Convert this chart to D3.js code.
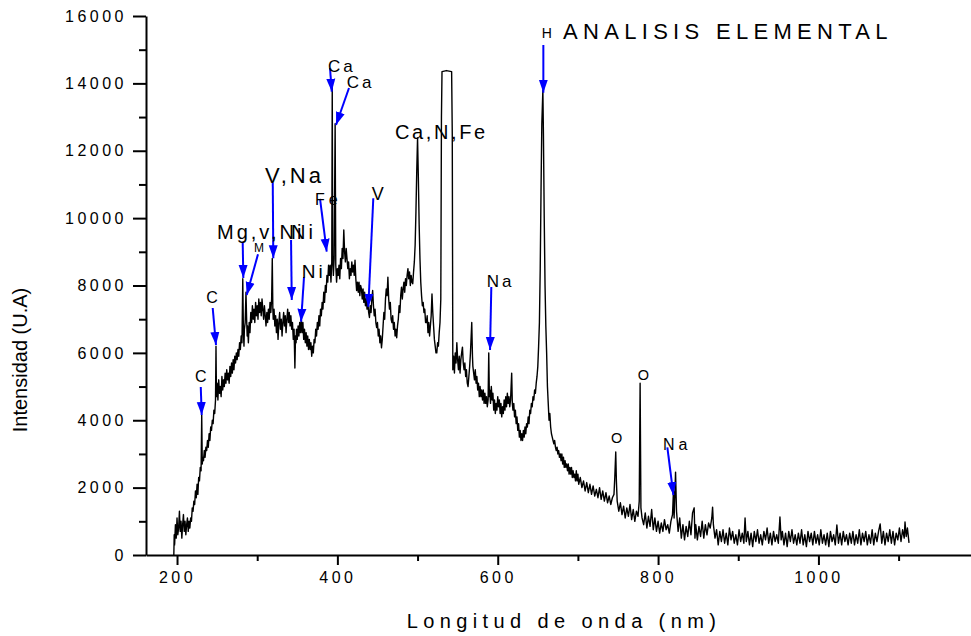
<!DOCTYPE html>
<html><head><meta charset="utf-8">
<script src="https://cdn.jsdelivr.net/npm/d3@7"></script>
<style>body{margin:0;background:#fff}svg{display:block}</style>
</head><body>
<svg id="chart" width="971" height="636"></svg>
<script>
// ---------- DATA ----------
const spectrumUV = [[196,0],[196.5,600],[197,300],[198,900],[199,500],[200,1100],[201,600],[202,800],[203,1300],[204,700],[205,1000],[206,500],[207,900],[208,1200],[209,700],[210,1000],[211,600],[212,900],[213,1100],[214,700],[215,1000],[216,800],[217,1100],[218,1000],[219,1400],[220,1300],[221,1600],[222,1500],[223,1900],[224,1700],[225,2100],[226,1800],[227,2300],[228,2200],[229,2600],[230,2500],[230.8,4150],[231.5,2700],[232,2900],[233,2800],[234,3100],[235,2900],[236,3200],[237,3100],[238,3400],[239,3200],[240,3600],[241,3400],[242,3800],[243,3700],[244,4000],[245,3900],[246,4300],[247,4200],[248,4600],[248.6,6200],[249.2,4700],[250,5100],[251,4600],[252,5200],[253,4800],[254,5000],[255,4700],[256,5300],[257,4900],[258,5200],[259,5000],[260,5400],[261,5100],[262,5500],[263,5200],[264,5400],[265,5100],[266,5600],[267,5300],[268,5700],[269,5400],[270,5800],[271,5500],[272,5900],[273,5700],[274,6000],[275,5800],[276,6100],[277,5900],[278,6300],[279,6100],[280,6500],[281,6300],[282,8200],[282.8,6600],[283.5,6200],[284,6700],[285,6900],[286,7800],[286.8,7000],[287.5,6500],[288,6800],[289,6300],[290,6900],[291,6600],[292,7200],[293,6900],[294,7400],[295,7000],[296,7300],[297,6900],[298,7500],[299,7100],[300,7400],[301,7000],[302,7600],[303,7200],[304,7500],[305,7100],[306,7600],[307,7300],[308,7000],[309,7400],[310,7100],[311,6800],[312,7200],[313,6900],[314,7300],[315,7000],[316,7500],[317,7200],[318,7600],[318.8,8800],[319.5,7300],[320,7000],[321,7300],[322,6800],[323,7100],[324,6600],[325,7000],[326,6400],[327,6900],[328,7200],[329,6700],[330,7000],[331,6500],[332,6900],[333,7200],[334,6800],[335,7100],[336,6600],[337,7000],[338,7300],[339,6900],[340,7200],[341,6800],[342,7100],[343,6700],[344,6900],[345,6400],[346,6700],[347,5550],[347.8,6500],[348.5,6300],[349,6700],[350,6400],[351,6800],[352,6500],[353,6900],[354,6600],[355,7000],[356,6600],[357,6900],[358,6400],[359,6700],[360,6300],[361,6600],[362,6200],[363,6500],[364,6100],[365,6400],[366,6100],[367,6300],[368,5900],[369,6200],[370,6000],[371,6400],[372,6300],[373,6700],[374,6500],[375,6900],[376,6700],[377,7100],[378,6800],[379,7300],[380,7100],[381,7500],[382,7300],[383,7800],[384,7500],[385,8000],[386,7800],[387,8300],[388,8100],[389,8600],[390,8300],[391,8600],[392,8100],[393,8700],[393.6,13900],[394.2,8900],[395,8300],[396,8800],[397.2,12800],[398,8600],[399,8100],[400,8500]];

const spectrumVis = [[401,8300],[402,8600],[403,8200],[404,8800],[405,8500],[406,9100],[407,8800],[408,9650],[409,9000],[410,8700],[411,9100],[412,8800],[413,8500],[414,8700],[415,8200],[416,8500],[417,8300],[418,8700],[419,8400],[420,8600],[421,8300],[422,8750],[423,8200],[424,7850],[425,8100],[426,7800],[427,8100],[428,7700],[429,8000],[430,7900],[431,7600],[432,7900],[433,7500],[434,7800],[435,7400],[436,7600],[437,7300],[438,7500],[439,7200],[440,7050],[441,7400],[442,7200],[443,7600],[444,7850],[445,7400],[446,7100],[447,7300],[448,6900],[449,6750],[450,6900],[451,6500],[452,6700],[453,6300],[454,6500],[455,6150],[456,6400],[457,6800],[458,7200],[459,7000],[460,7600],[461,7900],[462,7700],[463,8250],[464,7600],[465,7300],[466,7500],[467,7000],[468,6900],[469,7100],[470,6700],[471,6900],[472,6500],[473,6700],[474,6450],[475,6800],[476,7000],[477,7400],[478,7200],[479,7700],[480,7950],[481,7600],[482,7900],[483,8100],[484,7800],[485,8200],[486,8000],[487,8300],[488,8500],[489,8200],[490,8400],[491,8000],[492,8300],[493,8100],[494,8050],[495,8400],[496,8700],[497,9200],[498,10200],[499,11400],[500,12380],[501,11200],[502,9800],[503,8800],[504,8100],[505,7700],[506,7400],[507,7500],[508,7200],[509,7300],[510,6900],[511,6900],[512,7100],[513,6600],[514,6900],[515,6500],[516,6800],[517,7100],[518,7750],[519,7200],[520,6800],[521,6400],[522,6200],[523,6000],[524,6000],[525,6300],[526,6200],[527,6600],[528,6900],[529,7600],[529.8,13000],[530.5,14350],[536,14380],[542.5,14350],[543.3,12500],[544,5500],[545,5900],[546,5400],[547,6000],[548,5700],[549,6300],[550,5800],[551,5500],[552,5900],[553,5400],[554,5800],[555,6000],[556,6170],[557,5700],[558,5500],[559,5700],[560,5300],[561,5500],[562,5100],[563,5000],[564,5300],[565,5600],[566,6000],[567.6,6900],[568.5,5900],[569,5600],[570,5400],[571,5200],[572,5500],[573,5100],[574,5300],[575,4900],[576,5100],[577,4700],[578,5000],[579,4700],[580,4900],[581,4600],[582,4900],[583,4500],[584,4800],[585,4500],[586,4700],[587,4400],[588,4600],[588.8,6000],[589.6,4700],[590,4900],[591,4500],[592,5000],[593,4600],[594,4800],[595,4300],[596,4600],[597,4200],[598,4500],[599,4300],[600,4700],[601,4400],[602,4600],[603,4200],[604,4500],[605,4100],[606,4400],[607,4200],[608,4600],[609,4300],[610,4700],[611,4400],[612,4800],[613,4500],[614,4700],[615,4400],[616,4600],[617.4,5400],[618.2,4500],[619,4300],[620,4500],[621,4100],[622,4300],[623,3900],[624,4100],[625,3700],[626,3900],[627,3500],[628,3700],[629,3400],[630,3600],[631,3400],[632,3700],[633,3500],[634,3800],[635,3600],[636,3900],[637,3800],[638,4100],[639,3900],[640,4300],[641,4200],[642,4500],[643,4400],[644,4700],[645,4600],[646,4900],[647,4800],[648,5100],[649,5300],[650,5600],[651,6200],[652,6900],[653,8500],[654,10800],[655,12800],[656.3,13800],[657,12500],[658,10000],[659,8000],[660,6800],[661,6000],[662,5000],[663,4500],[664,4000],[665,4200],[666,3800],[667,3600],[668,3500],[669,3400],[670,3300],[671,3400],[672,3200],[673,3100],[674,3200],[675,3000],[676,3100],[677,2900],[678,3000],[679,2800],[680,3000],[681,2700],[682,2900],[683,2600],[684,2800],[685,2600],[686,2700],[687,2500],[688,2700],[689,2400],[690,2600],[691,2400],[692,2600],[693,2300],[694,2500],[695,2300],[696,2400],[697,2200],[698,2500],[699,2200],[700,2400]];

const spectrumNIR = [[701,2100],[703,2300],[705,2000],[707,2200],[709,1900],[711,2150],[713,1850],[715,2100],[717,1800],[719,2050],[721,1750],[723,1950],[725,1700],[727,2000],[729,1650],[731,1900],[733,1600],[735,1850],[737,1550],[739,1750],[741,1500],[743,1700],[745,1800],[746,2300],[747.2,3060],[748,2200],[749,1600],[751,1300],[753,1550],[755,1200],[757,1450],[759,1100],[761,1400],[763,1150],[765,1500],[767,1050],[769,1350],[771,1000],[773,1300],[775,1150],[776.5,1600],[777.6,5100],[778.6,1400],[780,1100],[782,900],[784,1250],[786,800],[788,1150],[790,850],[792,1350],[794,750],[796,1100],[798,700],[800,1000],[802,650],[804,950],[806,700],[808,1050],[810,750],[812,900],[814,650],[816,1000],[818,1200],[819.2,1900],[820,1100],[821.8,2460],[823,1300],[825,700],[827,1100],[829,500],[831,900],[833,450],[835,850],[837,550],[839,1000],[841,600],[843,1250],[845,1400],[846,500],[847,900],[849,450],[851,850],[853,550],[855,1000],[857,500],[859,900],[861,600],[863,950],[865,800],[867,1100],[868,1420],[869,900],[871,500],[873,750],[875,300],[877,700],[879,400],[881,750],[883,350],[885,650],[887,300],[889,800],[891,450],[893,700],[895,350],[897,600],[899,300],[901,750],[903,400],[905,650],[907,350],[908.5,1100],[910,400],[912,700],[914,300],[916,650],[918,250],[920,700],[922,400],[924,750],[926,350],[928,600],[930,300],[932,700],[934,450],[936,800],[938,350],[940,650],[942,300],[944,700],[946,400],[948,600],[950,350],[952,1130],[953.5,450],[955,700],[957,300],[959,650],[961,250],[963,700],[965,400],[967,750],[969,350],[971,600],[973,300],[975,650],[977,350],[979,750],[981,300],[983,600],[985,250],[987,700],[989,400],[991,650],[993,300],[995,700],[997,350],[999,600],[1001,300],[1003,750],[1005,350],[1007,600],[1009,300],[1011,650],[1013,250],[1015,700],[1017,400],[1019,600],[1021,300],[1023,890],[1025,350],[1027,650],[1029,300],[1031,700],[1033,400],[1035,600],[1037,300],[1039,650],[1041,350],[1043,700],[1045,300],[1047,600],[1049,350],[1051,750],[1053,300],[1055,650],[1057,400],[1059,700],[1061,300],[1063,600],[1065,350],[1067,750],[1069,300],[1071,650],[1073,400],[1075,700],[1077,920],[1079,350],[1081,700],[1083,300],[1085,650],[1087,400],[1089,750],[1091,350],[1093,700],[1095,300],[1097,650],[1099,450],[1101,800],[1103,400],[1105,750],[1107,500],[1108,980],[1109.5,550],[1111,800],[1113,360]];

const xTickValues = [200, 400, 600, 800, 1000];
const xMinorTicks = [300, 500, 700, 900, 1100];
const yTickValues = [0, 2000, 4000, 6000, 8000, 10000, 12000, 14000, 16000];
const yMinorTicks = [1000, 3000, 5000, 7000, 9000, 11000, 13000, 15000];

const xLabel = "Longitud de onda (nm)";
const yLabel = "Intensidad (U.A)";
const titleText = "ANALISIS ELEMENTAL";
const titlePos = [681.5, 15317];

// label: text, position [wl, intensity] of baseline, arrow from/to in data units
const annotations = [
  {text:"C", at:[229.6,5145], anchor:"middle", size:16, ls:0, from:[229.6,4987], to:[230.8,4156]},
  {text:"C", at:[243.7,7472], anchor:"middle", size:16, ls:0, from:[244.5,7332], to:[248.6,6234]},
  {text:"Mg,v,Ni", at:[249.9,9372], anchor:"start", size:20, ls:3, from:[281.9,9300], to:[282.7,8223]},
  {text:"M", at:[302.3,9000], anchor:"middle", size:12, ls:0, from:[301,8930], to:[286.9,7718]},
  {text:"V,Na", at:[309.8,11043], anchor:"start", size:22, ls:3, from:[319.4,11043], to:[320.1,8808]},
  {text:"Ni", at:[342.2,9372], anchor:"start", size:20, ls:3, from:[342.2,9351], to:[343.1,7570]},
  {text:"Ni", at:[355.5,8223], anchor:"start", size:19, ls:3, from:[358.4,8252], to:[354.7,6926]},
  {text:"Fe", at:[372.1,10390], anchor:"start", size:16, ls:4, from:[378.4,10568], to:[386.7,9003]},
  {text:"Ca", at:[388.3,14347], anchor:"start", size:17, ls:3, from:[390.8,14457], to:[393,13753]},
  {text:"Ca", at:[411.7,13854], anchor:"start", size:17, ls:3, from:[414.5,13863], to:[398.3,12765]},
  {text:"V", at:[442.9,10538], anchor:"start", size:18, ls:0, from:[444.8,10589], to:[438.6,7371]},
  {text:"Ca,N,Fe", at:[471.9,12340], anchor:"start", size:20, ls:2.6, from:null, to:null},
  {text:"Na", at:[586.3,7965], anchor:"start", size:17, ls:3, from:[592,7956], to:[590.4,6085]},
  {text:"H", at:[654.9,15338], anchor:"start", size:14, ls:0, from:[656.9,15139], to:[656.9,13723]},
  {text:"O", at:[748.4,3316], anchor:"middle", size:14.5, ls:0, from:null, to:null},
  {text:"O", at:[781.6,5195], anchor:"middle", size:14.5, ls:0, from:null, to:null},
  {text:"Na", at:[806.2,3117], anchor:"start", size:16, ls:4, from:[811.6,3197], to:[819.1,1781]}
];

// ---------- LAYOUT ----------
const FONT = "'Liberation Sans', Arial, Helvetica, sans-serif";
const svg = d3.select("#chart");

const x = d3.scaleLinear().domain([161.3, 1190.3]).range([146, 971]);
const y = d3.scaleLinear().domain([0, 16000]).range([555, 16]);

// spectrum line
const spectrum = spectrumUV.concat(spectrumVis, spectrumNIR);
const line = d3.line().x(d => x(d[0])).y(d => y(d[1]));
svg.append("path")
  .datum(spectrum)
  .attr("d", line)
  .attr("fill", "none")
  .attr("stroke", "#000")
  .attr("stroke-width", 1.4)
  .attr("stroke-linejoin", "round");

// axes
const gx = svg.append("g").attr("transform", `translate(0,${y(0)})`);
gx.call(d3.axisBottom(x).tickValues(xTickValues).tickSize(10).tickSizeOuter(0).tickPadding(7).tickFormat(d3.format("d")));
const gxm = svg.append("g").attr("transform", `translate(0,${y(0)})`);
gxm.call(d3.axisBottom(x).tickValues(xMinorTicks).tickSize(6).tickSizeOuter(0).tickFormat(""));
gxm.select(".domain").remove();

const gy = svg.append("g").attr("transform", `translate(${x.range()[0]},0)`);
gy.call(d3.axisLeft(y).tickValues(yTickValues).tickSize(13).tickSizeOuter(0).tickPadding(6).tickFormat(d3.format("d")));
const gym = svg.append("g").attr("transform", `translate(${x.range()[0]},0)`);
gym.call(d3.axisLeft(y).tickValues(yMinorTicks).tickSize(7).tickSizeOuter(0).tickFormat(""));
gym.select(".domain").remove();

svg.selectAll(".domain, .tick line").attr("stroke", "#000").attr("stroke-width", 2);
svg.selectAll(".tick text")
  .attr("fill", "#000")
  .style("font-family", FONT)
  .style("font-size", "16px")
  .style("letter-spacing", "3.5px");

// axis titles
svg.append("text")
  .attr("x", 564)
  .attr("y", 628)
  .attr("text-anchor", "middle")
  .style("font-family", FONT)
  .style("font-size", "20px")
  .style("letter-spacing", "5.4px")
  .text(xLabel);

svg.append("text")
  .attr("transform", "translate(27,360) rotate(-90)")
  .attr("text-anchor", "middle")
  .style("font-family", FONT)
  .style("font-size", "20px")
  .text(yLabel);

// title
svg.append("text")
  .attr("x", x(titlePos[0]))
  .attr("y", y(titlePos[1]))
  .style("font-family", FONT)
  .style("font-size", "22px")
  .style("letter-spacing", "5.3px")
  .text(titleText);

// arrow marker
svg.append("defs").append("marker")
  .attr("id", "ah")
  .attr("markerUnits", "userSpaceOnUse")
  .attr("markerWidth", 14).attr("markerHeight", 10)
  .attr("refX", 13).attr("refY", 5)
  .attr("orient", "auto")
  .append("path")
  .attr("d", "M0,0.5 L13,5 L0,9.5 Z")
  .attr("fill", "#0000ff");

const ann = svg.append("g");
annotations.forEach(a => {
  if (a.from) {
    ann.append("line")
      .attr("x1", x(a.from[0])).attr("y1", y(a.from[1]))
      .attr("x2", x(a.to[0])).attr("y2", y(a.to[1]))
      .attr("stroke", "#0000ff").attr("stroke-width", 2)
      .attr("marker-end", "url(#ah)");
  }
});
annotations.forEach(a => {
  ann.append("text")
    .attr("x", x(a.at[0]))
    .attr("y", y(a.at[1]))
    .attr("text-anchor", a.anchor)
    .style("font-family", FONT)
    .style("font-size", a.size + "px")
    .style("letter-spacing", a.ls + "px")
    .attr("fill", "#000")
    .text(a.text);
});
</script>
</body></html>
